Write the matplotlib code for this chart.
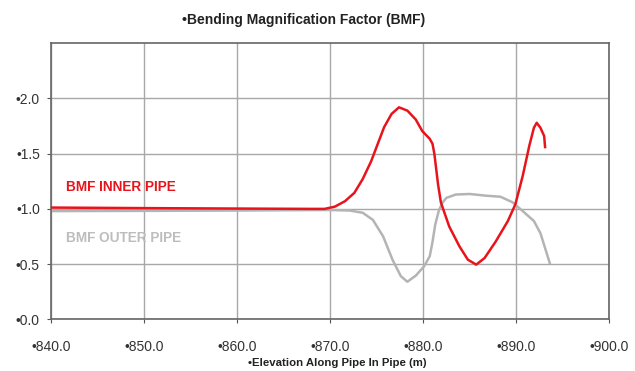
import matplotlib.pyplot as plt

# values
inner_x = [840, 850, 860, 868, 869.4, 870.5, 871.6, 872.6, 873.5, 874.4, 875.1, 875.8,
           876.6, 877.4, 878.3, 879.2, 879.9, 880.7, 881.0, 881.2, 881.4, 881.6, 881.9,
           882.1, 882.8, 883.9, 884.8, 885.7, 886.6, 887.8, 889.1, 889.9, 890.7,
           891.4, 891.9, 892.2, 892.6, 893.0, 893.1]
inner_y = [1.012, 1.007, 1.003, 1.0, 1.0, 1.02, 1.07, 1.145, 1.27, 1.43, 1.585, 1.74,
           1.86, 1.92, 1.89, 1.81, 1.705, 1.635, 1.59, 1.50, 1.36, 1.22, 1.06,
           1.01, 0.84, 0.66, 0.54, 0.495, 0.555, 0.705, 0.89, 1.04, 1.30,
           1.57, 1.735, 1.78, 1.735, 1.66, 1.56]

outer_x = [840, 850, 860, 869.9, 872.1, 873.5, 874.6, 875.7, 876.7, 877.6, 878.3,
           879.2, 880.1, 880.7, 881.0, 881.3, 881.7, 882.1, 882.5, 883.5, 885.0,
           886.7, 888.3, 889.6, 890.7, 891.9, 892.6, 893.1, 893.6]
outer_y = [0.98, 0.982, 0.985, 0.99, 0.985, 0.965, 0.90, 0.75, 0.54, 0.39, 0.34,
           0.395, 0.48, 0.57, 0.70, 0.86, 0.99, 1.06, 1.10, 1.13, 1.135,
           1.12, 1.11, 1.06, 0.98, 0.89, 0.78, 0.645, 0.51]

x_ticks = [840, 850, 860, 870, 880, 890, 900]
y_ticks = [0.0, 0.5, 1.0, 1.5, 2.0]

plt.rcParams['font.family'] = ['Liberation Sans', 'DejaVu Sans']

fig = plt.figure(figsize=(6.35, 3.71), dpi=100)
ax = fig.add_axes([0.0803, 0.1394, 0.8792, 0.7439])

ax.plot(inner_x, inner_y, color='#e8141c', lw=1.8, zorder=3)
ax.plot(outer_x, outer_y, color='#b4b4b4', lw=1.8, zorder=2)

ax.set_xlim(840, 900)
ax.set_ylim(0, 2.5)
ax.set_xticks(x_ticks)
ax.set_yticks(y_ticks)
ax.set_xticklabels([f'\u2022{v:.1f}' for v in x_ticks], fontsize=10, color='#333333')
ax.set_yticklabels([f'\u2022{v:.1f}' for v in y_ticks], fontsize=10, color='#333333')
ax.tick_params(length=3, color='#555555', pad=5)
ax.tick_params(axis='x', pad=12)

ax.grid(True, color='#a8a8a8', lw=1.0)
for s in ax.spines.values():
    s.set_color('#666666')
    s.set_linewidth(1.2)

ax.text(841.6, 1.20, 'BMF INNER PIPE', color='#e8141c', fontsize=9.8,
        fontweight='bold', va='center')
ax.text(841.6, 0.74, 'BMF OUTER PIPE', color='#bdbdbd', fontsize=9.8,
        fontweight='bold', va='center')

fig.text(0.478, 0.946, '\u2022Bending Magnification Factor (BMF)', ha='center',
         va='center', fontsize=10, fontweight='bold', color='#222222')
fig.text(0.531, 0.022, '\u2022Elevation Along Pipe In Pipe (m)', ha='center',
         va='center', fontsize=8.2, fontweight='bold', color='#222222')

fig.savefig('out.png', dpi=100)
